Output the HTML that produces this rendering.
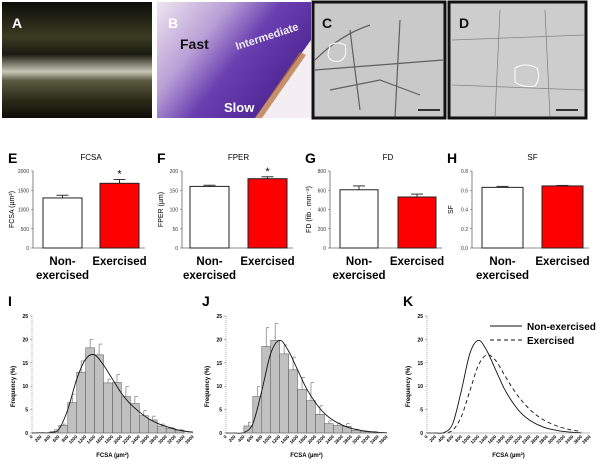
<!DOCTYPE html>
<html><head><meta charset="utf-8"><style>
body{margin:0;background:#fff;}
svg{display:block;font-family:"Liberation Sans",Arial,sans-serif;}
</style></head><body>
<svg id="fig" width="600" height="465" viewBox="0 0 600 465">
<defs>
<linearGradient id="gB" x1="0" y1="0" x2="1" y2="0.6">
<stop offset="0" stop-color="#efe4f0"/><stop offset="0.35" stop-color="#b9a0d6"/><stop offset="0.6" stop-color="#6a3fb0"/><stop offset="1" stop-color="#4b2290"/></linearGradient>
<linearGradient id="gA" x1="0" y1="0" x2="0" y2="1">
<stop offset="0" stop-color="#0c0d08"/><stop offset="0.3" stop-color="#3a3b22"/><stop offset="0.45" stop-color="#1a1b10"/><stop offset="0.6" stop-color="#c8c8b8"/><stop offset="0.68" stop-color="#5a5a40"/><stop offset="0.85" stop-color="#2a2a18"/><stop offset="1" stop-color="#0d0d08"/></linearGradient>
</defs>
<g>
<rect x="2" y="2" width="150" height="116" fill="url(#gA)"/>
<text x="12" y="28" font-size="14" font-weight="bold" fill="#fff">A</text></g>
<g>
<rect x="157" y="2" width="154" height="116" fill="url(#gB)"/>
<polygon points="311,40 311,118 255,118" fill="#f4eef2"/>
<polygon points="300,52 255,118 262,118 306,55" fill="#b26a30" opacity="0.7"/>
<text x="168" y="28" font-size="14" font-weight="bold" fill="#fff">B</text>
<text x="180" y="49" font-size="14" font-weight="bold" fill="#111">Fast</text>
<text x="237" y="50" font-size="11" font-weight="bold" fill="#eee" transform="rotate(-18 237 50)">Intermediate</text>
<text x="224" y="112" font-size="13" font-weight="bold" fill="#fff">Slow</text></g>
<g>
<rect x="313" y="2" width="132" height="116" fill="#c9c9c9" stroke="#111" stroke-width="3"/>
<path d="M315 60 Q340 35 370 25 M330 90 L380 80 L420 95 M350 30 L360 110 M400 20 L395 118 M315 70 L443 60" stroke="#333" fill="none" stroke-width="1.2" opacity="0.7"/>
<path d="M330 45 q8 -4 15 0 q3 12 -5 16 q-10 2 -12 -6z" fill="none" stroke="#fff" stroke-width="1"/>
<line x1="418" y1="110" x2="440" y2="110" stroke="#000" stroke-width="1.5"/>
<text x="322" y="28" font-size="14" font-weight="bold" fill="#111">C</text></g>
<g>
<rect x="449" y="2" width="137" height="116" fill="#cdcdcd" stroke="#111" stroke-width="3"/>
<path d="M452 40 L585 35 M452 85 L585 90 M500 10 L495 118 M545 10 L550 118" stroke="#555" fill="none" stroke-width="0.8" opacity="0.6"/>
<path d="M515 68 q10 -6 22 0 q4 10 -2 18 q-12 2 -20 -4z" fill="none" stroke="#fff" stroke-width="1"/>
<line x1="556" y1="110" x2="578" y2="110" stroke="#000" stroke-width="1.5"/>
<text x="459" y="28" font-size="14" font-weight="bold" fill="#111">D</text></g>
<g id="bars"></g>
<g id="hists"></g>
</svg>
<script>
const NS="http://www.w3.org/2000/svg";
const svg=document.getElementById('fig');
function el(tag,attrs,parent,txt){const e=document.createElementNS(NS,tag);for(const k in attrs)e.setAttribute(k,attrs[k]);if(txt!==undefined)e.textContent=txt;(parent||svg).appendChild(e);return e;}

// ---- Bar chart data ----
const groups=["Non-exercised","Exercised"];
const fcsaVals=[1300,1680];const fcsaErr=[70,100];
const fperVals=[160,180];const fperErr=[3,5];
const fdVals=[605,530];const fdErr=[40,30];
const sfVals=[0.63,0.645];const sfErr=[0.01,0.005];
const fcsaTicks=[0,500,1000,1500,2000];
const fperTicks=[0,50,100,150,200];
const fdTicks=[0,200,400,600,800];
const sfTicks=["0.0","0.2","0.4","0.6","0.8"];

const barPanels=[
 {letter:"E",title:"FCSA",yl:"FCSA (µm²)",vals:fcsaVals,err:fcsaErr,ticks:fcsaTicks,max:2000,ax:33,bx:[43,100],bw:39,star:true},
 {letter:"F",title:"FPER",yl:"FPER (µm)",vals:fperVals,err:fperErr,ticks:fperTicks,max:200,ax:182,bx:[190,248],bw:39,star:true},
 {letter:"G",title:"FD",yl:"FD (fib . mm⁻²)",vals:fdVals,err:fdErr,ticks:fdTicks,max:800,ax:330,bx:[340,398],bw:38,star:false},
 {letter:"H",title:"SF",yl:"SF",vals:sfVals,err:sfErr,ticks:sfTicks,max:0.8,ax:472,bx:[482,542],bw:41,star:false}
];
const bg=document.getElementById('bars');
barPanels.forEach(p=>{
 const g=el('g',{},bg);
 
 
 const y0=248,y1=171;
 const ys=v=>y0-(v/p.max)*(y0-y1);
 const L=el('text',{x:p.ax-25,y:163,'font-size':14,'font-weight':'bold'},g,p.letter);
 
 const T=el('text',{x:(p.bx[0]+p.bx[1]+p.bw)/2,y:160,'font-size':8,'text-anchor':'middle'},g,p.title);
 
 el('line',{x1:p.ax,y1:y1,x2:p.ax,y2:y0,stroke:'#666','stroke-width':0.8},g);
 el('line',{x1:p.ax,y1:y0,x2:p.bx[1]+p.bw+6,y2:y0,stroke:'#666','stroke-width':0.8},g);
 p.ticks.forEach(t=>{const y=ys(+t);el('line',{x1:p.ax-2,y1:y,x2:p.ax,y2:y,stroke:'#666','stroke-width':0.6},g);
  const tt=el('text',{x:p.ax-4,y:y+2,'font-size':5,'text-anchor':'end',fill:'#333'},g,String(t));
  });
 const yl=el('text',{x:p.ax-19,y:(y0+y1)/2,'font-size':7,'text-anchor':'middle',transform:`rotate(-90 ${p.ax-19} ${(y0+y1)/2})`},g,p.yl);
 
 p.vals.forEach((v,i)=>{
  const x=p.bx[i],y=ys(v),ye=ys(v+p.err[i]);
  el('line',{x1:x+p.bw/2,y1:y,x2:x+p.bw/2,y2:ye,stroke:'#333','stroke-width':1},g);
  el('line',{x1:x+p.bw/2-6,y1:ye,x2:x+p.bw/2+6,y2:ye,stroke:'#333','stroke-width':1},g);
  const r=el('rect',{x:x,y:y,width:p.bw,height:y0-y,fill:i?'#ff0000':'#fff',stroke:'#222','stroke-width':1},g);
  
  
  if(i===1&&p.star){const s=el('text',{x:x+p.bw/2,y:ye-2,'font-size':11,'text-anchor':'middle'},g,'*');}
 });
 const cx0=p.bx[0]+p.bw/2,cx1=p.bx[1]+p.bw/2;
 const a=el('text',{x:cx0,y:265,'font-size':11.5,'font-weight':'bold','text-anchor':'middle'},g,'Non-');
 const b=el('text',{x:cx0,y:279,'font-size':11.5,'font-weight':'bold','text-anchor':'middle'},g,'exercised');
 const c=el('text',{x:cx1,y:265,'font-size':11.5,'font-weight':'bold','text-anchor':'middle'},g,'Exercised');
});

// ---- Histogram data (bins of 200 µm², starting at 0) ----
const binStarts=[0,200,400,600,800,1000,1200,1400,1600,1800,2000,2200,2400,2600,2800,3000,3200,3400];
// Panel I (exercised)
const histI=[0,0,0.3,1.6,6.5,13,18.2,16.7,10.7,10.8,7.8,6.3,3.7,2.8,1.5,1.0,0.6,0];
const errI=[0,0,0.4,0.3,1.8,2.4,1.8,2.3,0.8,1.7,2.1,1.5,1.1,0.8,0.4,0.2,0.1,0];
// Panel J (non-exercised)
const histJ=[0,0,1.5,7.8,18.5,19.8,16.9,13.5,9.3,6.9,4.0,2.0,1.6,1.4,0.6,0.3,0.2,0];
const errJ=[0,0,0.8,2.1,4.0,3.6,1.9,2.7,2.6,3.9,1.8,0.6,0.5,0.6,0.2,0.1,0.1,0];
const curveX=[0,200,400,600,800,1000,1200,1400,1600,1800,2000,2200,2400,2600,2800,3000,3200,3400,3600];
const curveSolid=[0,0,0.1,2,9,17,19.8,17.5,13.5,9.5,6.5,4.2,2.7,1.7,1.0,0.6,0.3,0.15,0.05];
const curveDash=[0,0,0.05,0.6,3.5,9,14.5,16.7,15.5,12.5,9.5,7,5,3.5,2.4,1.6,1.0,0.6,0.3];
const curveI=[0,0.05,0.1,0.8,5,11.5,15.8,16.7,14.5,11.5,8.5,6.2,4.5,3.1,2.1,1.4,0.8,0.4,0.2];
const yTicksH=[0,5,10,15,20,25];
const xTicksI=[0,200,400,600,800,1000,1200,1400,1600,1800,2000,2200,2400,2600,2800,3000,3200,3400,3600];
const xTicksK=[0,200,400,600,800,1000,1200,1400,1600,1800,2000,2200,2400,2600,2800,3000,3200,3400,3600,3800];

const hg=document.getElementById('hists');
function smoothPath(pts){let d=`M${pts[0][0]},${pts[0][1]}`;for(let i=0;i<pts.length-1;i++){const p0=pts[i-1]||pts[i],p1=pts[i],p2=pts[i+1],p3=pts[i+2]||p2;
 d+=` C${p1[0]+(p2[0]-p0[0])/6},${p1[1]+(p2[1]-p0[1])/6} ${p2[0]-(p3[0]-p1[0])/6},${p2[1]-(p3[1]-p1[1])/6} ${p2[0]},${p2[1]}`;}return d;}
function histPanel(letter,ax,xmax,xend,ticksX,hist,err,curves,name){
 const g=el('g',{},hg);
 
 
 const y0=433,y25=316;
 const ys=v=>y0-v*(y0-y25)/25;
 const xs=v=>ax+v*(xend-ax)/xmax;
 const L=el('text',{x:ax-24,y:306,'font-size':14,'font-weight':'bold'},g,letter);
 
 if(hist){hist.forEach((v,i)=>{if(v<=0)return;const x=xs(binStarts[i]),w=xs(binStarts[i]+200)-x;
  const ye=ys(v+err[i]);
  el('line',{x1:x+w/2,y1:ys(v),x2:x+w/2,y2:ye,stroke:'#777','stroke-width':0.7},g);
  el('line',{x1:x+w/2,y1:ye,x2:x+w/2+3,y2:ye,stroke:'#777','stroke-width':0.7},g);
  const r=el('rect',{x:x,y:ys(v),width:w,height:y0-ys(v),fill:'#c0c0c0',stroke:'#555','stroke-width':0.5},g);
  });}
 curves.forEach(c=>{const pts=curveX.map((x,i)=>[xs(x),ys(c.v[i])]).filter(p=>p[0]<=xend);
  const pa=el('path',{d:smoothPath(pts),fill:'none',stroke:'#111','stroke-width':0.9,'stroke-dasharray':c.dash||'none'},g);
  });
 el('line',{x1:ax,y1:y25,x2:ax,y2:y0,stroke:'#777','stroke-width':0.6,'stroke-dasharray':'1,1'},g);
 el('line',{x1:ax,y1:y0,x2:xend,y2:y0,stroke:'#777','stroke-width':0.6},g);
 yTicksH.forEach(t=>{const y=ys(t);el('line',{x1:ax-2,y1:y,x2:ax,y2:y,stroke:'#777','stroke-width':0.5},g);
  const tt=el('text',{x:ax-4,y:y+2,'font-size':5,'text-anchor':'end','font-weight':'bold'},g,String(t));
  });
 ticksX.forEach(t=>{const x=xs(t);
  const tt=el('text',{x:x+1,y:y0+4,'font-size':4.5,'text-anchor':'end','font-weight':'bold',transform:`rotate(-45 ${x+1} ${y0+4})`},g,String(t));
  });
 const xl=el('text',{x:(ax+xend)/2,y:457,'font-size':6,'text-anchor':'middle','font-weight':'bold'},g,'FCSA (µm²)');
 
 const yl=el('text',{x:ax-17,y:(y0+y25)/2+12,'font-size':6,'text-anchor':'middle','font-weight':'bold',transform:`rotate(-90 ${ax-17} ${(y0+y25)/2+12})`},g,'Frequency (%)');
 
 return g;
}
histPanel('I',32,3600,193,xTicksI,histI,errI,[{v:curveI,name:'fit-curve-exercised'}],'histogram-exercised');
histPanel('J',226,3600,387,xTicksI,histJ,errJ,[{v:curveSolid,name:'fit-curve-non-exercised'}],'histogram-non-exercised');
const k=histPanel('K',427,3800,590,xTicksK,null,null,[{v:curveSolid,name:'curve-non-exercised'},{v:curveDash,name:'curve-exercised',dash:'4,3'}],'curve-comparison');
const leg=el('g',{},k);


el('line',{x1:490,y1:326,x2:522,y2:326,stroke:'#111','stroke-width':1},leg);
el('line',{x1:490,y1:340,x2:522,y2:340,stroke:'#111','stroke-width':1,'stroke-dasharray':'4,3'},leg);
const l1=el('text',{x:527,y:330,'font-size':10,'font-weight':'bold'},leg,'Non-exercised');

const l2=el('text',{x:527,y:344,'font-size':10,'font-weight':'bold'},leg,'Exercised');

</script>
</body></html>
